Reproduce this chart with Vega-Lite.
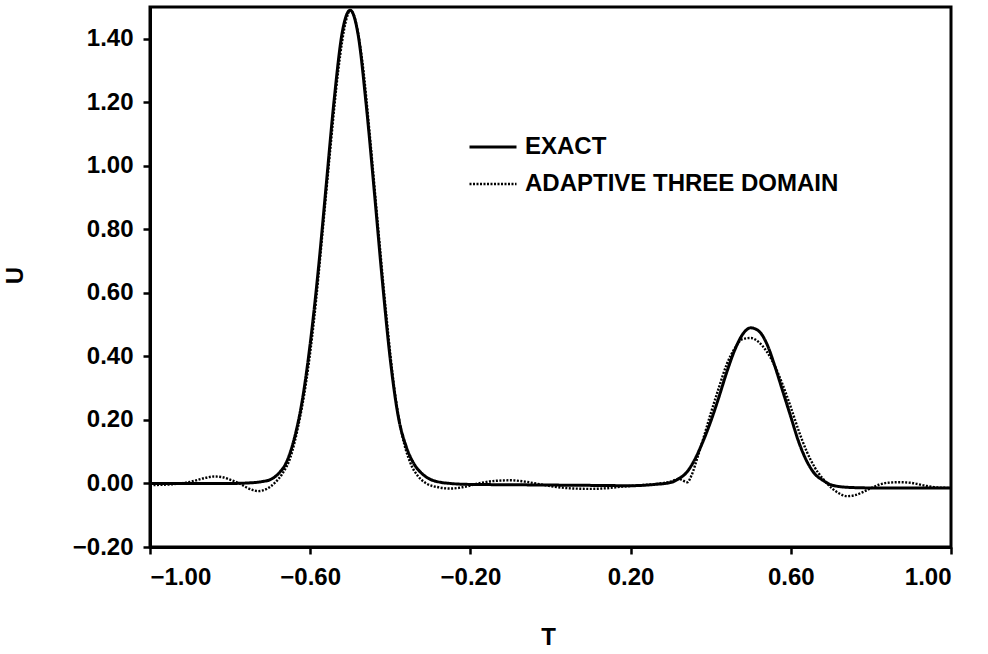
{
  "$schema": "https://vega.github.io/schema/vega-lite/v6.json",
  "width": 801,
  "height": 540,
  "autosize": {"type": "none"},
  "padding": {"left": 150, "top": 7, "right": 37, "bottom": 107},
  "background": "white",
  "config": {
    "view": {"stroke": "black", "strokeWidth": 3},
    "axis": {
      "grid": false,
      "domainColor": "black",
      "domainWidth": 3,
      "tickColor": "black",
      "tickWidth": 2.5,
      "tickSize": 7,
      "labelColor": "black",
      "labelFont": "Liberation Sans",
      "labelFontWeight": "bold",
      "labelFontSize": 24,
      "titleColor": "black",
      "titleFont": "Liberation Sans",
      "titleFontWeight": "bold",
      "titleFontSize": 24
    }
  },
  "data": {
    "values": [
      {"T": -1.00, "U": 0.000, "series": "EXACT"},
      {"T": -0.90, "U": 0.000, "series": "EXACT"},
      {"T": -0.80, "U": 0.000, "series": "EXACT"},
      {"T": -0.75, "U": 0.002, "series": "EXACT"},
      {"T": -0.72, "U": 0.006, "series": "EXACT"},
      {"T": -0.70, "U": 0.012, "series": "EXACT"},
      {"T": -0.68, "U": 0.030, "series": "EXACT"},
      {"T": -0.66, "U": 0.065, "series": "EXACT"},
      {"T": -0.64, "U": 0.14, "series": "EXACT"},
      {"T": -0.62, "U": 0.26, "series": "EXACT"},
      {"T": -0.60, "U": 0.44, "series": "EXACT"},
      {"T": -0.58, "U": 0.67, "series": "EXACT"},
      {"T": -0.56, "U": 0.94, "series": "EXACT"},
      {"T": -0.54, "U": 1.21, "series": "EXACT"},
      {"T": -0.52, "U": 1.42, "series": "EXACT"},
      {"T": -0.50, "U": 1.49, "series": "EXACT"},
      {"T": -0.48, "U": 1.41, "series": "EXACT"},
      {"T": -0.46, "U": 1.19, "series": "EXACT"},
      {"T": -0.44, "U": 0.92, "series": "EXACT"},
      {"T": -0.42, "U": 0.64, "series": "EXACT"},
      {"T": -0.40, "U": 0.39, "series": "EXACT"},
      {"T": -0.38, "U": 0.21, "series": "EXACT"},
      {"T": -0.36, "U": 0.115, "series": "EXACT"},
      {"T": -0.34, "U": 0.06, "series": "EXACT"},
      {"T": -0.32, "U": 0.03, "series": "EXACT"},
      {"T": -0.30, "U": 0.013, "series": "EXACT"},
      {"T": -0.28, "U": 0.005, "series": "EXACT"},
      {"T": -0.25, "U": 0.000, "series": "EXACT"},
      {"T": -0.20, "U": -0.003, "series": "EXACT"},
      {"T": -0.10, "U": -0.004, "series": "EXACT"},
      {"T": 0.00, "U": -0.005, "series": "EXACT"},
      {"T": 0.10, "U": -0.006, "series": "EXACT"},
      {"T": 0.20, "U": -0.007, "series": "EXACT"},
      {"T": 0.26, "U": -0.003, "series": "EXACT"},
      {"T": 0.30, "U": 0.003, "series": "EXACT"},
      {"T": 0.32, "U": 0.015, "series": "EXACT"},
      {"T": 0.34, "U": 0.035, "series": "EXACT"},
      {"T": 0.36, "U": 0.075, "series": "EXACT"},
      {"T": 0.38, "U": 0.13, "series": "EXACT"},
      {"T": 0.40, "U": 0.195, "series": "EXACT"},
      {"T": 0.42, "U": 0.27, "series": "EXACT"},
      {"T": 0.44, "U": 0.35, "series": "EXACT"},
      {"T": 0.46, "U": 0.42, "series": "EXACT"},
      {"T": 0.48, "U": 0.47, "series": "EXACT"},
      {"T": 0.50, "U": 0.49, "series": "EXACT"},
      {"T": 0.52, "U": 0.48, "series": "EXACT"},
      {"T": 0.54, "U": 0.44, "series": "EXACT"},
      {"T": 0.56, "U": 0.37, "series": "EXACT"},
      {"T": 0.58, "U": 0.29, "series": "EXACT"},
      {"T": 0.60, "U": 0.21, "series": "EXACT"},
      {"T": 0.62, "U": 0.13, "series": "EXACT"},
      {"T": 0.64, "U": 0.07, "series": "EXACT"},
      {"T": 0.66, "U": 0.03, "series": "EXACT"},
      {"T": 0.68, "U": 0.01, "series": "EXACT"},
      {"T": 0.70, "U": -0.004, "series": "EXACT"},
      {"T": 0.74, "U": -0.012, "series": "EXACT"},
      {"T": 0.80, "U": -0.014, "series": "EXACT"},
      {"T": 0.90, "U": -0.014, "series": "EXACT"},
      {"T": 1.00, "U": -0.014, "series": "EXACT"},

      {"T": -1.00, "U": -0.005, "series": "ADAPTIVE THREE DOMAIN"},
      {"T": -0.95, "U": -0.003, "series": "ADAPTIVE THREE DOMAIN"},
      {"T": -0.90, "U": 0.005, "series": "ADAPTIVE THREE DOMAIN"},
      {"T": -0.86, "U": 0.018, "series": "ADAPTIVE THREE DOMAIN"},
      {"T": -0.84, "U": 0.022, "series": "ADAPTIVE THREE DOMAIN"},
      {"T": -0.82, "U": 0.020, "series": "ADAPTIVE THREE DOMAIN"},
      {"T": -0.80, "U": 0.012, "series": "ADAPTIVE THREE DOMAIN"},
      {"T": -0.78, "U": 0.002, "series": "ADAPTIVE THREE DOMAIN"},
      {"T": -0.76, "U": -0.012, "series": "ADAPTIVE THREE DOMAIN"},
      {"T": -0.74, "U": -0.022, "series": "ADAPTIVE THREE DOMAIN"},
      {"T": -0.73, "U": -0.024, "series": "ADAPTIVE THREE DOMAIN"},
      {"T": -0.71, "U": -0.018, "series": "ADAPTIVE THREE DOMAIN"},
      {"T": -0.69, "U": 0.000, "series": "ADAPTIVE THREE DOMAIN"},
      {"T": -0.67, "U": 0.03, "series": "ADAPTIVE THREE DOMAIN"},
      {"T": -0.65, "U": 0.08, "series": "ADAPTIVE THREE DOMAIN"},
      {"T": -0.63, "U": 0.18, "series": "ADAPTIVE THREE DOMAIN"},
      {"T": -0.61, "U": 0.32, "series": "ADAPTIVE THREE DOMAIN"},
      {"T": -0.59, "U": 0.52, "series": "ADAPTIVE THREE DOMAIN"},
      {"T": -0.57, "U": 0.78, "series": "ADAPTIVE THREE DOMAIN"},
      {"T": -0.55, "U": 1.05, "series": "ADAPTIVE THREE DOMAIN"},
      {"T": -0.53, "U": 1.30, "series": "ADAPTIVE THREE DOMAIN"},
      {"T": -0.51, "U": 1.46, "series": "ADAPTIVE THREE DOMAIN"},
      {"T": -0.50, "U": 1.49, "series": "ADAPTIVE THREE DOMAIN"},
      {"T": -0.49, "U": 1.47, "series": "ADAPTIVE THREE DOMAIN"},
      {"T": -0.47, "U": 1.33, "series": "ADAPTIVE THREE DOMAIN"},
      {"T": -0.45, "U": 1.08, "series": "ADAPTIVE THREE DOMAIN"},
      {"T": -0.43, "U": 0.80, "series": "ADAPTIVE THREE DOMAIN"},
      {"T": -0.41, "U": 0.53, "series": "ADAPTIVE THREE DOMAIN"},
      {"T": -0.39, "U": 0.30, "series": "ADAPTIVE THREE DOMAIN"},
      {"T": -0.37, "U": 0.15, "series": "ADAPTIVE THREE DOMAIN"},
      {"T": -0.35, "U": 0.065, "series": "ADAPTIVE THREE DOMAIN"},
      {"T": -0.33, "U": 0.022, "series": "ADAPTIVE THREE DOMAIN"},
      {"T": -0.31, "U": 0.000, "series": "ADAPTIVE THREE DOMAIN"},
      {"T": -0.28, "U": -0.012, "series": "ADAPTIVE THREE DOMAIN"},
      {"T": -0.25, "U": -0.016, "series": "ADAPTIVE THREE DOMAIN"},
      {"T": -0.22, "U": -0.012, "series": "ADAPTIVE THREE DOMAIN"},
      {"T": -0.18, "U": 0.000, "series": "ADAPTIVE THREE DOMAIN"},
      {"T": -0.14, "U": 0.008, "series": "ADAPTIVE THREE DOMAIN"},
      {"T": -0.10, "U": 0.010, "series": "ADAPTIVE THREE DOMAIN"},
      {"T": -0.06, "U": 0.005, "series": "ADAPTIVE THREE DOMAIN"},
      {"T": -0.02, "U": -0.004, "series": "ADAPTIVE THREE DOMAIN"},
      {"T": 0.02, "U": -0.012, "series": "ADAPTIVE THREE DOMAIN"},
      {"T": 0.06, "U": -0.016, "series": "ADAPTIVE THREE DOMAIN"},
      {"T": 0.10, "U": -0.017, "series": "ADAPTIVE THREE DOMAIN"},
      {"T": 0.14, "U": -0.015, "series": "ADAPTIVE THREE DOMAIN"},
      {"T": 0.18, "U": -0.010, "series": "ADAPTIVE THREE DOMAIN"},
      {"T": 0.22, "U": -0.006, "series": "ADAPTIVE THREE DOMAIN"},
      {"T": 0.26, "U": -0.002, "series": "ADAPTIVE THREE DOMAIN"},
      {"T": 0.30, "U": 0.006, "series": "ADAPTIVE THREE DOMAIN"},
      {"T": 0.32, "U": 0.014, "series": "ADAPTIVE THREE DOMAIN"},
      {"T": 0.342, "U": 0.004, "series": "ADAPTIVE THREE DOMAIN"},
      {"T": 0.352, "U": 0.025, "series": "ADAPTIVE THREE DOMAIN"},
      {"T": 0.367, "U": 0.082, "series": "ADAPTIVE THREE DOMAIN"},
      {"T": 0.38, "U": 0.135, "series": "ADAPTIVE THREE DOMAIN"},
      {"T": 0.40, "U": 0.22, "series": "ADAPTIVE THREE DOMAIN"},
      {"T": 0.42, "U": 0.30, "series": "ADAPTIVE THREE DOMAIN"},
      {"T": 0.44, "U": 0.375, "series": "ADAPTIVE THREE DOMAIN"},
      {"T": 0.46, "U": 0.425, "series": "ADAPTIVE THREE DOMAIN"},
      {"T": 0.48, "U": 0.455, "series": "ADAPTIVE THREE DOMAIN"},
      {"T": 0.50, "U": 0.458, "series": "ADAPTIVE THREE DOMAIN"},
      {"T": 0.52, "U": 0.445, "series": "ADAPTIVE THREE DOMAIN"},
      {"T": 0.54, "U": 0.415, "series": "ADAPTIVE THREE DOMAIN"},
      {"T": 0.56, "U": 0.37, "series": "ADAPTIVE THREE DOMAIN"},
      {"T": 0.58, "U": 0.31, "series": "ADAPTIVE THREE DOMAIN"},
      {"T": 0.60, "U": 0.24, "series": "ADAPTIVE THREE DOMAIN"},
      {"T": 0.62, "U": 0.165, "series": "ADAPTIVE THREE DOMAIN"},
      {"T": 0.64, "U": 0.10, "series": "ADAPTIVE THREE DOMAIN"},
      {"T": 0.66, "U": 0.05, "series": "ADAPTIVE THREE DOMAIN"},
      {"T": 0.68, "U": 0.015, "series": "ADAPTIVE THREE DOMAIN"},
      {"T": 0.70, "U": -0.012, "series": "ADAPTIVE THREE DOMAIN"},
      {"T": 0.72, "U": -0.031, "series": "ADAPTIVE THREE DOMAIN"},
      {"T": 0.74, "U": -0.040, "series": "ADAPTIVE THREE DOMAIN"},
      {"T": 0.76, "U": -0.037, "series": "ADAPTIVE THREE DOMAIN"},
      {"T": 0.78, "U": -0.027, "series": "ADAPTIVE THREE DOMAIN"},
      {"T": 0.80, "U": -0.015, "series": "ADAPTIVE THREE DOMAIN"},
      {"T": 0.82, "U": -0.004, "series": "ADAPTIVE THREE DOMAIN"},
      {"T": 0.84, "U": 0.002, "series": "ADAPTIVE THREE DOMAIN"},
      {"T": 0.87, "U": 0.004, "series": "ADAPTIVE THREE DOMAIN"},
      {"T": 0.90, "U": 0.002, "series": "ADAPTIVE THREE DOMAIN"},
      {"T": 0.94, "U": -0.008, "series": "ADAPTIVE THREE DOMAIN"},
      {"T": 0.97, "U": -0.013, "series": "ADAPTIVE THREE DOMAIN"},
      {"T": 1.00, "U": -0.014, "series": "ADAPTIVE THREE DOMAIN"}
    ]
  },
  "mark": {"type": "line", "color": "black", "interpolate": "monotone"},
  "encoding": {
    "x": {
      "field": "T",
      "type": "quantitative",
      "scale": {"domain": [-1, 1], "nice": false, "zero": false},
      "axis": {
        "values": [-1, -0.6, -0.2, 0.2, 0.6, 1],
        "format": ".2f",
        "labelPadding": 11,
        "title": "T",
        "titleBaseline": "alphabetic",
        "titleX": 398,
        "titleY": 97,
        "titleAnchor": "middle"
      }
    },
    "y": {
      "field": "U",
      "type": "quantitative",
      "scale": {"domain": [-0.2, 1.5], "nice": false, "zero": false},
      "axis": {
        "values": [-0.2, 0, 0.2, 0.4, 0.6, 0.8, 1.0, 1.2, 1.4],
        "format": ".2f",
        "labelPadding": 10,
        "title": "U",
        "titleBaseline": "alphabetic",
        "titleX": -128,
        "titleY": 268,
        "titleAngle": -90
      }
    },
    "strokeDash": {
      "field": "series",
      "type": "nominal",
      "scale": {"domain": ["EXACT", "ADAPTIVE THREE DOMAIN"], "range": [[1, 0], [2, 1.5]]},
      "legend": {
        "title": null,
        "orient": "none",
        "legendX": 318,
        "legendY": 115,
        "padding": 0,
        "symbolType": "stroke",
        "symbolSize": 2209,
        "symbolStrokeColor": "black",
        "symbolStrokeWidth": 2.2,
        "labelFont": "Liberation Sans",
        "labelFontWeight": "bold",
        "labelFontSize": 24,
        "labelColor": "black",
        "labelLimit": 0,
        "labelOffset": 7,
        "rowPadding": -2
      }
    },
    "strokeWidth": {
      "field": "series",
      "type": "nominal",
      "scale": {"domain": ["EXACT", "ADAPTIVE THREE DOMAIN"], "range": [3, 2.4]},
      "legend": null
    }
  }
}
